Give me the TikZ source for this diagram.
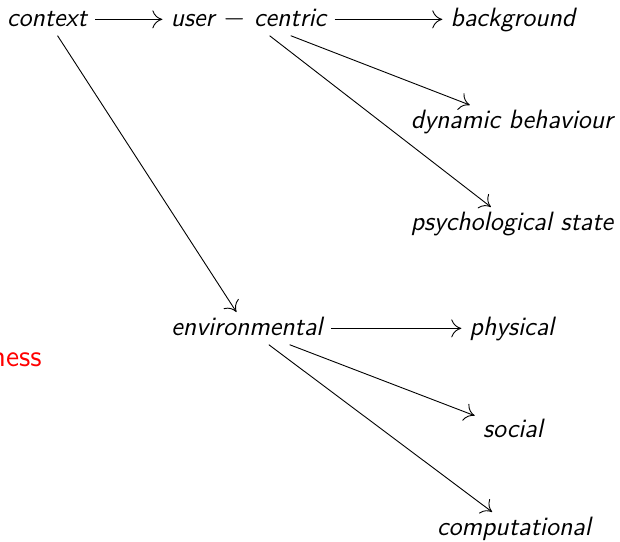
\documentclass[tikz,border=0pt]{standalone}
\usetikzlibrary{arrows.meta}
\begin{document}
\begin{tikzpicture}[x=0.5pt,y=-0.5pt,
  lbl/.style={font=\fontsize{13.25}{16}\selectfont\sffamily\itshape, text height=9.3pt, text depth=2.65pt, inner xsep=4pt, inner ysep=2pt, anchor=base},
  arr/.style={-{Computer Modern Rightarrow[length=5pt,width=9pt]}, line width=0.45pt},
  alert/.style={font=\fontsize{15}{18}\selectfont\sffamily, text=red, inner sep=0pt, anchor=base east}]
\useasboundingbox (0,0) rectangle (620,541);
\clip (0,0) rectangle (620,541);
\node[lbl] (ctx) at (47,26) {context};
\node[lbl] (uc) at (248.5,26) {user $-$ centric};
\node[lbl] (bg) at (513,26) {background};
\node[lbl] (dyn) at (512,128) {dynamic behaviour};
\node[lbl] (psy) at (512,230) {psychological state};
\node[lbl] (env) at (247,335) {environmental};
\node[lbl] (phy) at (512,335) {physical};
\node[lbl] (soc) at (513,437) {social};
\node[lbl] (com) at (514,535) {computational};
\node[alert] (ness) at (42,366) {ness};
\draw[arr] (ctx) -- (uc);
\draw[arr] (uc) -- (bg);
\draw[arr] (uc) -- (dyn);
\draw[arr] (uc) -- (psy);
\draw[arr] (ctx) -- (env);
\draw[arr] (env) -- (phy);
\draw[arr] (env) -- (soc);
\draw[arr] (env) -- (com);
\end{tikzpicture}
\end{document}
